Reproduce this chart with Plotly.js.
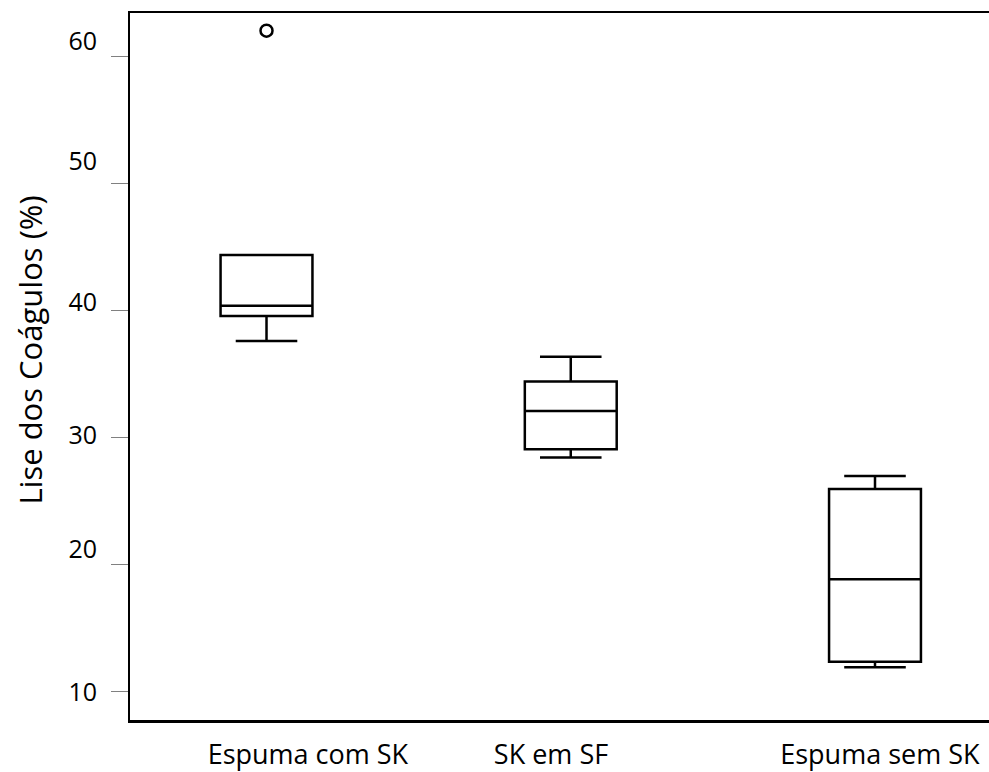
<!DOCTYPE html>
<html>
<head>
<meta charset="utf-8">
<script src="https://cdn.plot.ly/plotly-3.0.1.min.js"></script>
<style>
  html, body { margin: 0; padding: 0; background: #ffffff; overflow: hidden; }
  #chart { width: 989px; height: 772px; }
</style>
</head>
<body>
<div id="chart"></div>
<script>
// ---- data ----
const categories = ['Espuma com SK', 'SK em SF', 'Espuma sem SK'];
const lowerFence = [37.59, 28.40, 11.88];
const q1         = [39.56, 29.06, 12.30];
const median     = [40.37, 32.06, 18.80];
const q3         = [44.37, 34.40, 25.93];
const upperFence = [44.37, 36.35, 26.95];
const outlierCategory = ['Espuma com SK'];
const outlierValue    = [62.05];
const yTickValues = [10, 20, 30, 40, 50, 60];
const yTickLabels = ['10', '20', '30', '40', '50', '60'];
const yAxisTitle = 'Lise dos Coágulos (%)';

// ---- layout-only placement of labels (the reference's labels are not centred on their ticks) ----
const yLabelPlacement = [9.92, 21.2, 30.18, 40.66, 51.78, 61.18];
const xLabelPlacement = [0.136, 0.935, 2.016];

const yRange = [7.714, 63.44];
const xRange = [-0.4487, 2.3747];
const FONT = 'Open Sans, Noto Sans, sans-serif';

const boxTrace = {
  type: 'box',
  x: categories,
  q1: q1,
  median: median,
  q3: q3,
  lowerfence: lowerFence,
  upperfence: upperFence,
  boxpoints: false,
  width: 0.302,
  whiskerwidth: 0.67,
  fillcolor: '#ffffff',
  line: { color: '#000000', width: 2.5 },
  xaxis: 'x', yaxis: 'y',
  showlegend: false,
  hoverinfo: 'skip'
};

const outlierTrace = {
  type: 'scatter',
  mode: 'markers',
  x: outlierCategory,
  y: outlierValue,
  marker: { symbol: 'circle-open', size: 12, color: '#000000', line: { width: 2.5, color: '#000000' } },
  xaxis: 'x', yaxis: 'y',
  showlegend: false,
  hoverinfo: 'skip'
};

// empty traces so that the label-only axes are drawn
const yTitleHolder = { type: 'scatter', mode: 'markers', x: [], y: [], xaxis: 'x', yaxis: 'y3', showlegend: false, hoverinfo: 'skip' };
const xLabelHolder = { type: 'scatter', mode: 'markers', x: [], y: [], xaxis: 'x2', yaxis: 'y', showlegend: false, hoverinfo: 'skip' };
const yLabelHolder = { type: 'scatter', mode: 'markers', x: [], y: [], xaxis: 'x', yaxis: 'y2', showlegend: false, hoverinfo: 'skip' };

const layout = {
  width: 989,
  height: 772,
  margin: { l: 130, r: 0, t: 13, b: 52 },
  paper_bgcolor: '#ffffff',
  plot_bgcolor: 'rgba(0,0,0,0)',
  showlegend: false,
  font: { family: FONT, color: '#000000' },
  xaxis: {
    type: 'category',
    categoryorder: 'array',
    categoryarray: categories,
    range: xRange,
    showticklabels: false,
    ticks: '',
    showgrid: false,
    zeroline: false,
    showline: true,
    mirror: true,
    linecolor: '#000000',
    linewidth: 2.5,
    fixedrange: true
  },
  xaxis2: {
    overlaying: 'x',
    anchor: 'y',
    side: 'bottom',
    type: 'linear',
    range: xRange,
    tickmode: 'array',
    tickvals: xLabelPlacement,
    ticktext: categories,
    ticks: '',
    ticklabelstandoff: 16,
    tickfont: { family: FONT, size: 27, color: '#000000' },
    showgrid: false,
    zeroline: false,
    showline: false,
    fixedrange: true
  },
  yaxis: {
    range: yRange,
    tickmode: 'array',
    tickvals: yTickValues,
    ticktext: yTickLabels,
    showticklabels: false,
    ticks: 'outside',
    ticklen: 17,
    tickwidth: 1,
    tickcolor: '#808080',
    showgrid: false,
    zeroline: false,
    showline: true,
    linecolor: '#000000',
    linewidth: 2.5,
    fixedrange: true
  },
  yaxis2: {
    overlaying: 'y',
    anchor: 'x',
    side: 'left',
    type: 'linear',
    range: yRange,
    tickmode: 'array',
    tickvals: yLabelPlacement,
    ticktext: yTickLabels,
    ticks: '',
    ticklabelstandoff: 32,
    tickfont: { family: FONT, size: 25, color: '#000000' },
    showgrid: false,
    zeroline: false,
    showline: false,
    fixedrange: true
  },
  yaxis3: {
    domain: [0.0466, 1],
    anchor: 'free',
    position: 0,
    side: 'left',
    range: yRange,
    showticklabels: false,
    ticks: '',
    showgrid: false,
    zeroline: false,
    showline: false,
    fixedrange: true,
    title: { text: yAxisTitle, font: { family: FONT, size: 31, color: '#000000' }, standoff: 77 }
  }
};

Plotly.newPlot('chart', [yTitleHolder, boxTrace, outlierTrace, xLabelHolder, yLabelHolder], layout, { staticPlot: true, displayModeBar: false });
</script>
</body>
</html>
